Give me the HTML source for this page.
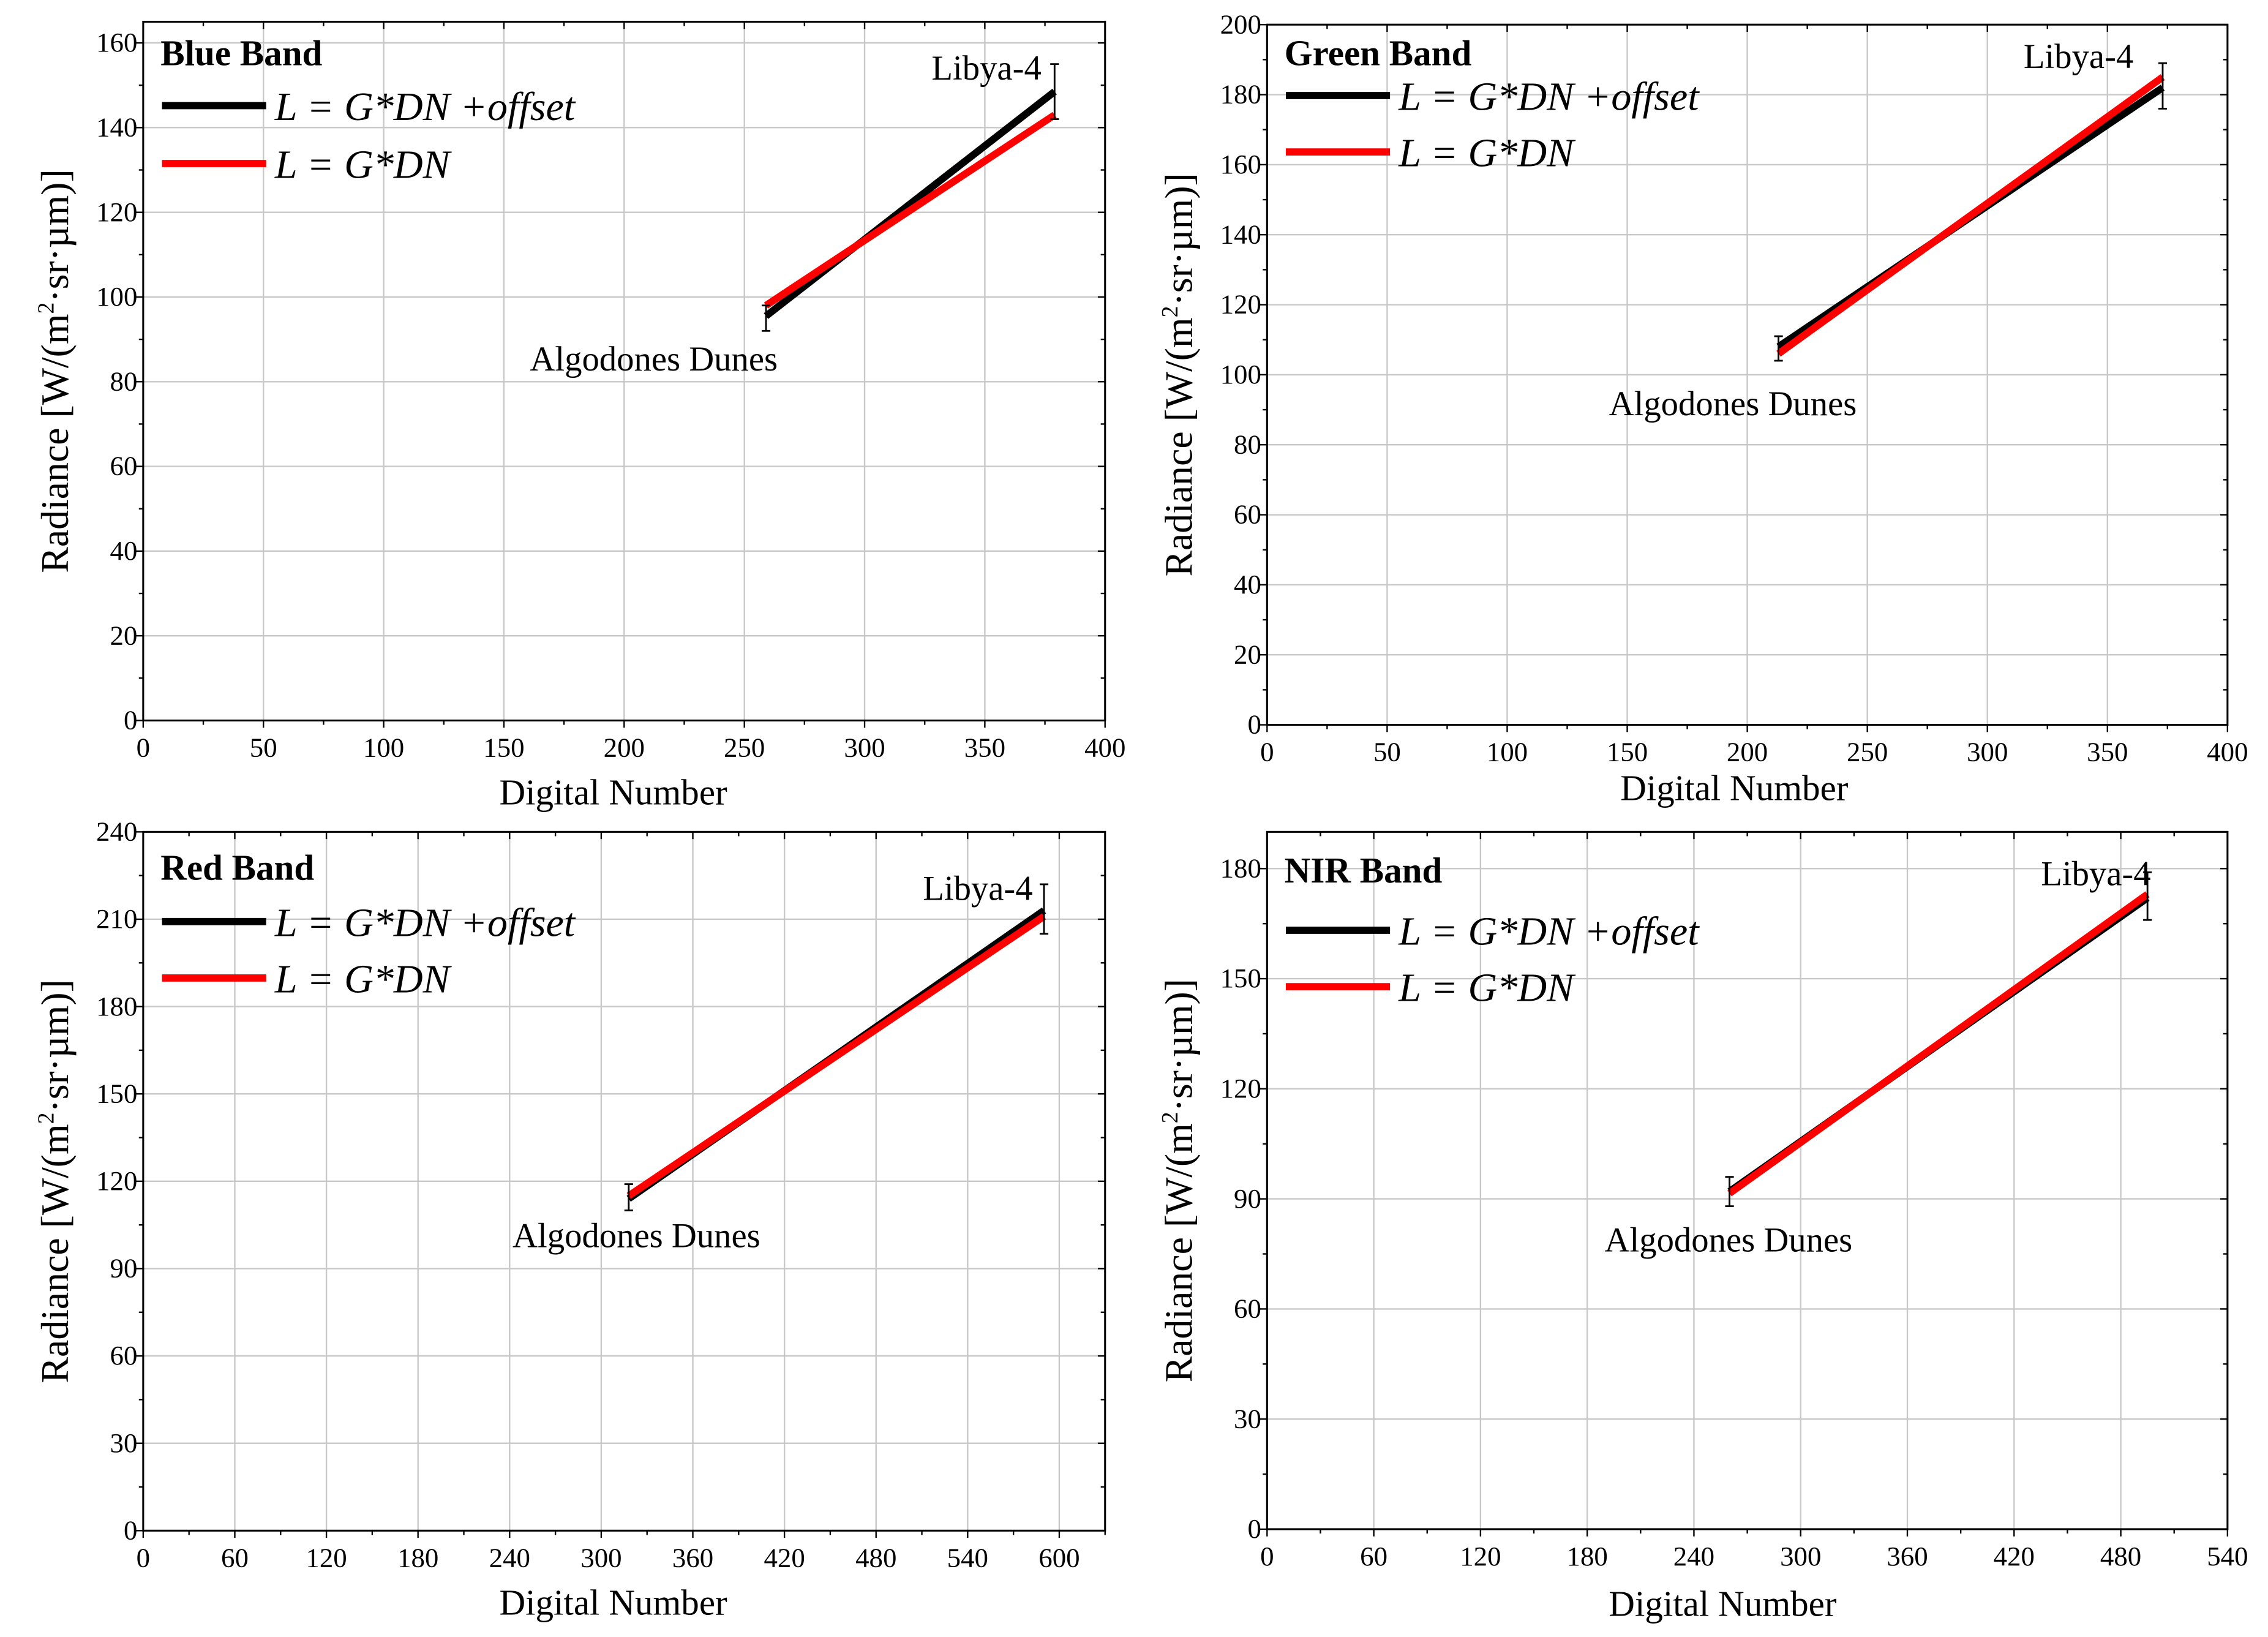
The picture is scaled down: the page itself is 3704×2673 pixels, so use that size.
<!DOCTYPE html>
<html><head><meta charset="utf-8"><style>
html,body{margin:0;padding:0;background:#fff}
svg{display:block;font-family:"Liberation Serif",serif}
svg text{font-family:"Liberation Serif",serif;fill:#000}
</style></head><body>
<svg id="fig" font-family="Liberation Serif, serif" width="3704" height="2673" viewBox="0 0 1568 1131.5" xmlns="http://www.w3.org/2000/svg"></svg>
<script>
// ---- data (per panel) ----
const blueDN = [259, 379];
const blueOffset = [95.5, 148.5];
const blueNoOffset = [98, 143];
const blueErrLo = [92, 142];
const blueErrHi = [98, 155];

const greenDN = [213, 373];
const greenOffset = [108, 182];
const greenNoOffset = [106, 185];
const greenErrLo = [104, 176];
const greenErrHi = [111, 189];

const redDN = [318, 590];
const redOffset = [114, 213];
const redNoOffset = [115, 211];
const redErrLo = [110, 205];
const redErrHi = [119, 222];

const nirDN = [260, 495];
const nirOffset = [92, 172];
const nirNoOffset = [91.5, 173];
const nirErrLo = [88, 166];
const nirErrHi = [96, 179];

const blueXTicks = [0,50,100,150,200,250,300,350,400];
const blueYTicks = [0,20,40,60,80,100,120,140,160];
const greenXTicks = [0,50,100,150,200,250,300,350,400];
const greenYTicks = [0,20,40,60,80,100,120,140,160,180,200];
const redXTicks = [0,60,120,180,240,300,360,420,480,540,600];
const redYTicks = [0,30,60,90,120,150,180,210,240];
const nirXTicks = [0,60,120,180,240,300,360,420,480,540];
const nirYTicks = [0,30,60,90,120,150,180];

const panels = [
 {name:'blue', title:'Blue Band', x0:99,x1:764,y0:15,y1:498, xmax:400, ymax:165, xminor:25, yminor:10,
  dn:blueDN, off:blueOffset, no:blueNoOffset, lo:blueErrLo, hi:blueErrHi, xt:blueXTicks, yt:blueYTicks,
  leg:[45,73,113], lib:[720,55], alg:[452,256], xtitle:[424,556]},
 {name:'green', title:'Green Band', x0:876,x1:1540,y0:17,y1:501, xmax:400, ymax:200, xminor:25, yminor:10,
  dn:greenDN, off:greenOffset, no:greenNoOffset, lo:greenErrLo, hi:greenErrHi, xt:greenXTicks, yt:greenYTicks,
  leg:[45,66,105], lib:[1475,47], alg:[1198,287], xtitle:[1199,553]},
 {name:'red', title:'Red Band', x0:99,x1:764,y0:575,y1:1058, xmax:630, ymax:240, xminor:30, yminor:15,
  dn:redDN, off:redOffset, no:redNoOffset, lo:redErrLo, hi:redErrHi, xt:redXTicks, yt:redYTicks,
  leg:[608,637,676], lib:[714,622], alg:[440,862], xtitle:[424,1116]},
 {name:'nir', title:'NIR Band', x0:876,x1:1540,y0:575,y1:1057, xmax:540, ymax:190, xminor:30, yminor:15,
  dn:nirDN, off:nirOffset, no:nirNoOffset, lo:nirErrLo, hi:nirErrHi, xt:nirXTicks, yt:nirYTicks,
  leg:[610,643,682], lib:[1487,612], alg:[1195,865], xtitle:[1191,1117]}
];

const NS='http://www.w3.org/2000/svg';
const svg=document.getElementById('fig');
function mk(tag, attrs, parent){const e=document.createElementNS(NS,tag);for(const k in attrs)e.setAttribute(k,attrs[k]);if(tag==='text')e.setAttribute('font-family','Liberation Serif, serif');(parent||svg).appendChild(e);return e;}

panels.forEach(p=>{
  const g=mk('g',{});
  
  
  const sx=v=>p.x0+(p.x1-p.x0)*v/p.xmax;
  const sy=v=>p.y1-(p.y1-p.y0)*v/p.ymax;
  p.xt.forEach(t=>{ if(t>0&&t<p.xmax){const l=mk('line',{x1:sx(t),x2:sx(t),y1:p.y0,y2:p.y1,stroke:'#c8c8c8','stroke-width':1},g);
    
    }});
  p.yt.forEach(t=>{ if(t>0&&t<p.ymax){const l=mk('line',{x1:p.x0,x2:p.x1,y1:sy(t),y2:sy(t),stroke:'#c8c8c8','stroke-width':1},g);
    
    }});
  const fr=mk('rect',{x:p.x0,y:p.y0,width:p.x1-p.x0,height:p.y1-p.y0,fill:'none',stroke:'#000','stroke-width':1.3},g);
  
  
  for(let v=0; v<=p.xmax+0.01; v+=p.xminor){
    const major=p.xt.includes(v); const len=major?5:3;
    mk('line',{x1:sx(v),x2:sx(v),y1:p.y1,y2:p.y1+len,stroke:'#000','stroke-width':1},g);
    mk('line',{x1:sx(v),x2:sx(v),y1:p.y0,y2:p.y0+len,stroke:'#000','stroke-width':1},g);
  }
  for(let v=0; v<=p.ymax+0.01; v+=p.yminor){
    const major=p.yt.includes(v); const len=major?5:3;
    mk('line',{x1:p.x0-len,x2:p.x0,y1:sy(v),y2:sy(v),stroke:'#000','stroke-width':1},g);
    mk('line',{x1:p.x1-len,x2:p.x1,y1:sy(v),y2:sy(v),stroke:'#000','stroke-width':1},g);
  }
  p.xt.forEach(t=>{const tx=mk('text',{x:sx(t),y:p.y1+25,'text-anchor':'middle','font-size':19},g);tx.textContent=t;
    
    });
  p.yt.forEach(t=>{const tx=mk('text',{x:p.x0-4,y:sy(t)+6,'text-anchor':'end','font-size':19},g);tx.textContent=t;
    
    });
  const xt=mk('text',{x:p.xtitle[0],y:p.xtitle[1],'text-anchor':'middle','font-size':25},g);xt.textContent='Digital Number';
  
  
  const cy=(p.y0+p.y1)/2, cx=p.x0-52;
  const yt=mk('text',{x:0,y:0,'text-anchor':'middle','font-size':27,transform:`translate(${cx},${cy}) rotate(-90)`},g);
  yt.innerHTML='Radiance [W/(m<tspan dy="-10" font-size="16">2</tspan><tspan dy="10">·sr·µm)]</tspan>';
  
  
  const lo=mk('line',{x1:sx(p.dn[0]),y1:sy(p.off[0]),x2:sx(p.dn[1]),y2:sy(p.off[1]),stroke:'#000','stroke-width':5},g);
  
  
  const ln=mk('line',{x1:sx(p.dn[0]),y1:sy(p.no[0]),x2:sx(p.dn[1]),y2:sy(p.no[1]),stroke:'#f00','stroke-width':5},g);
  
  
  p.dn.forEach((d,i)=>{
    const eg=mk('g',{stroke:'#000','stroke-width':1.2},g);
    
    
    mk('line',{x1:sx(d),x2:sx(d),y1:sy(p.lo[i]),y2:sy(p.hi[i])},eg);
    mk('line',{x1:sx(d)-3,x2:sx(d)+3,y1:sy(p.lo[i]),y2:sy(p.lo[i])},eg);
    mk('line',{x1:sx(d)-3,x2:sx(d)+3,y1:sy(p.hi[i]),y2:sy(p.hi[i])},eg);
  });
  const lb=mk('text',{x:p.lib[0],y:p.lib[1],'text-anchor':'end','font-size':24},g);lb.textContent='Libya-4';
  
  
  const al=mk('text',{x:p.alg[0],y:p.alg[1],'text-anchor':'middle','font-size':24},g);al.textContent='Algodones Dunes';
  
  
  const lx=p.x0+13;
  const bt=mk('text',{x:lx-1,y:p.leg[0],'font-size':25,'font-weight':'bold'},g);bt.textContent=p.title;
  
  
  const le1=mk('g',{},g);
  
  
  mk('line',{x1:lx,x2:lx+72,y1:p.leg[1],y2:p.leg[1],stroke:'#000','stroke-width':5},le1);
  const t1=mk('text',{x:lx+78,y:p.leg[1]+10,'font-size':28,'font-style':'italic'},le1);t1.textContent='L = G*DN +offset';
  const le2=mk('g',{},g);
  
  
  mk('line',{x1:lx,x2:lx+72,y1:p.leg[2],y2:p.leg[2],stroke:'#f00','stroke-width':5},le2);
  const t2=mk('text',{x:lx+78,y:p.leg[2]+10,'font-size':28,'font-style':'italic'},le2);t2.textContent='L = G*DN';
});
</script>
</body></html>
